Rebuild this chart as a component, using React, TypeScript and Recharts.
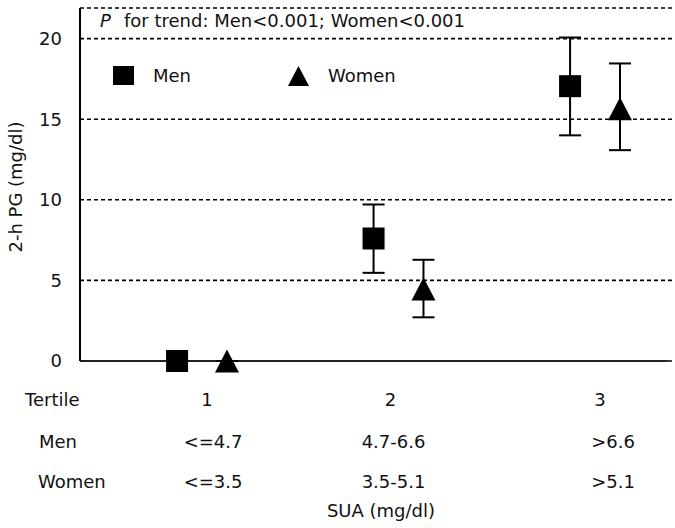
import React from 'react';
import {
  ScatterChart,
  Scatter,
  XAxis,
  YAxis,
  CartesianGrid,
  ErrorBar,
  ReferenceLine,
  Legend,
} from 'recharts';

// ---- data ----
const tertiles = [1, 2, 3];
const tertileLabels = ['1', '2', '3'];
const menRanges = ['<=4.7', '4.7-6.6', '>6.6'];
const womenRanges = ['<=3.5', '3.5-5.1', '>5.1'];
const menMean = [0, 7.6, 17.05];
const menLow = [0, 5.47, 14.0];
const menHigh = [0, 9.71, 20.07];
const womenMean = [0, 4.46, 15.65];
const womenLow = [0, 2.71, 13.08];
const womenHigh = [0, 6.28, 18.46];
const yTicks = [0, 5, 10, 15, 20];
const titleP = 'P';
const titleRest = 'for trend: Men<0.001; Women<0.001';
const yLabel = '2-h PG (mg/dl)';
const xLabel = 'SUA (mg/dl)';
const rowLabels = ['Tertile', 'Men', 'Women'];

// ---- layout ----
const W = 675;
const H = 528;
const FONT = '"DejaVu Sans", sans-serif';
const FS = 18;
const INK = '#111';
const OFFSET = 0.127;
const X_DOMAIN: [number, number] = [0.379, 3.407];
const X_AXIS_END = 3.371;
const TICK_DX = [
  [5, 11, 11],
  [-8, -5, -5],
  [5, 18, 18],
];

const menData = tertiles.map((t, i) => ({
  x: t - OFFSET,
  y: menMean[i],
  err: [menMean[i] - menLow[i], menHigh[i] - menMean[i]],
}));
const womenData = tertiles.map((t, i) => ({
  x: t + OFFSET,
  y: womenMean[i],
  err: [womenMean[i] - womenLow[i], womenHigh[i] - womenMean[i]],
}));

const SquareShape = (p: any) => (
  <rect x={p.cx - 11} y={p.cy - 11} width={22} height={22} fill="#000" />
);
const TriangleShape = (p: any) => (
  <path
    d={`M${p.cx},${p.cy - 11.5} L${p.cx + 12},${p.cy + 11.5} L${p.cx - 12},${p.cy + 11.5} Z`}
    fill="#000"
  />
);

const XTick = (props: any) => {
  const { x, y, payload } = props;
  const i = tertiles.indexOf(payload.value);
  if (i < 0) return null;
  const d = TICK_DX[i];
  const common = { textAnchor: 'middle' as const, fontFamily: FONT, fontSize: FS, fill: INK };
  return (
    <g>
      <text x={x + d[0]} y={y + 45} {...common}>{tertileLabels[i]}</text>
      <text x={x + d[1]} y={y + 87} {...common}>{menRanges[i]}</text>
      <text x={x + d[2]} y={y + 127} {...common}>{womenRanges[i]}</text>
    </g>
  );
};

const renderLegend = (props: any) => {
  const { payload } = props;
  return (
    <div style={{ display: 'flex', fontFamily: FONT, fontSize: FS, color: INK }}>
      {(payload || []).map((e: any, i: number) => (
        <div key={i} style={{ width: 175, display: 'flex', alignItems: 'center' }}>
          <svg width={21} height={21} style={{ display: 'block' }}>
            {e.type === 'square' ? (
              <rect x={0} y={1} width={21} height={19} fill="#000" />
            ) : (
              <path d="M10.5,1 L21,21 L0,21 Z" fill="#000" />
            )}
          </svg>
          <span style={{ marginLeft: 19, lineHeight: '21px' }}>{e.value}</span>
        </div>
      ))}
    </div>
  );
};

export default function App() {
  return (
    <div style={{ position: 'absolute', left: 0, top: 0, width: W, height: H, background: '#fff' }}>
      <ScatterChart width={W} height={H} margin={{ top: 8, right: 0, left: 0, bottom: 0 }}>
        <CartesianGrid
          vertical={false}
          horizontal
          stroke="#000"
          strokeDasharray="4 3"
          strokeWidth={1.6}
        />
        <XAxis
          type="number"
          dataKey="x"
          domain={X_DOMAIN}
          ticks={tertiles}
          interval={0}
          height={167}
          axisLine={false}
          tickLine={false}
          tickSize={0}
          tickMargin={0}
          tick={<XTick />}
        />
        <YAxis
          type="number"
          dataKey="y"
          domain={[0, 21.9]}
          ticks={yTicks}
          interval={0}
          width={80}
          axisLine={{ stroke: '#000', strokeWidth: 2 }}
          tickLine={false}
          tickSize={0}
          tickMargin={18}
          tick={{ fontFamily: FONT, fontSize: FS, fill: INK }}
        />
        <ReferenceLine
          segment={[
            { x: X_DOMAIN[0], y: 0 },
            { x: X_AXIS_END, y: 0 },
          ]}
          stroke="#222"
          strokeWidth={2}
          ifOverflow="visible"
        />
        <Legend
          layout="horizontal"
          verticalAlign="middle"
          align="center"
          content={renderLegend}
          wrapperStyle={{ top: 65, left: 113, width: 'auto', height: 'auto' }}
        />
        <Scatter
          name="Men"
          data={menData}
          legendType="square"
          fill="#000"
          shape={SquareShape}
          isAnimationActive={false}
        >
          <ErrorBar dataKey="err" direction="y" width={11} stroke="#000" strokeWidth={2} />
        </Scatter>
        <Scatter
          name="Women"
          data={womenData}
          legendType="triangle"
          fill="#000"
          shape={TriangleShape}
          isAnimationActive={false}
        >
          <ErrorBar dataKey="err" direction="y" width={11} stroke="#000" strokeWidth={2} />
        </Scatter>
      </ScatterChart>
      <svg
        width={W}
        height={H}
        style={{ position: 'absolute', left: 0, top: 0, pointerEvents: 'none' }}
        fontFamily={FONT}
        fontSize={FS}
        fill={INK}
      >
        <text x={100} y={27}>
          <tspan fontStyle="italic">{titleP}</tspan>
          <tspan x={124}>{titleRest}</tspan>
        </text>
        <text transform="translate(21.5,187) rotate(-90)" textAnchor="middle">{yLabel}</text>
        <text x={25} y={406}>{rowLabels[0]}</text>
        <text x={39} y={448}>{rowLabels[1]}</text>
        <text x={38} y={488}>{rowLabels[2]}</text>
        <text x={381} y={517} textAnchor="middle">{xLabel}</text>
      </svg>
    </div>
  );
}
